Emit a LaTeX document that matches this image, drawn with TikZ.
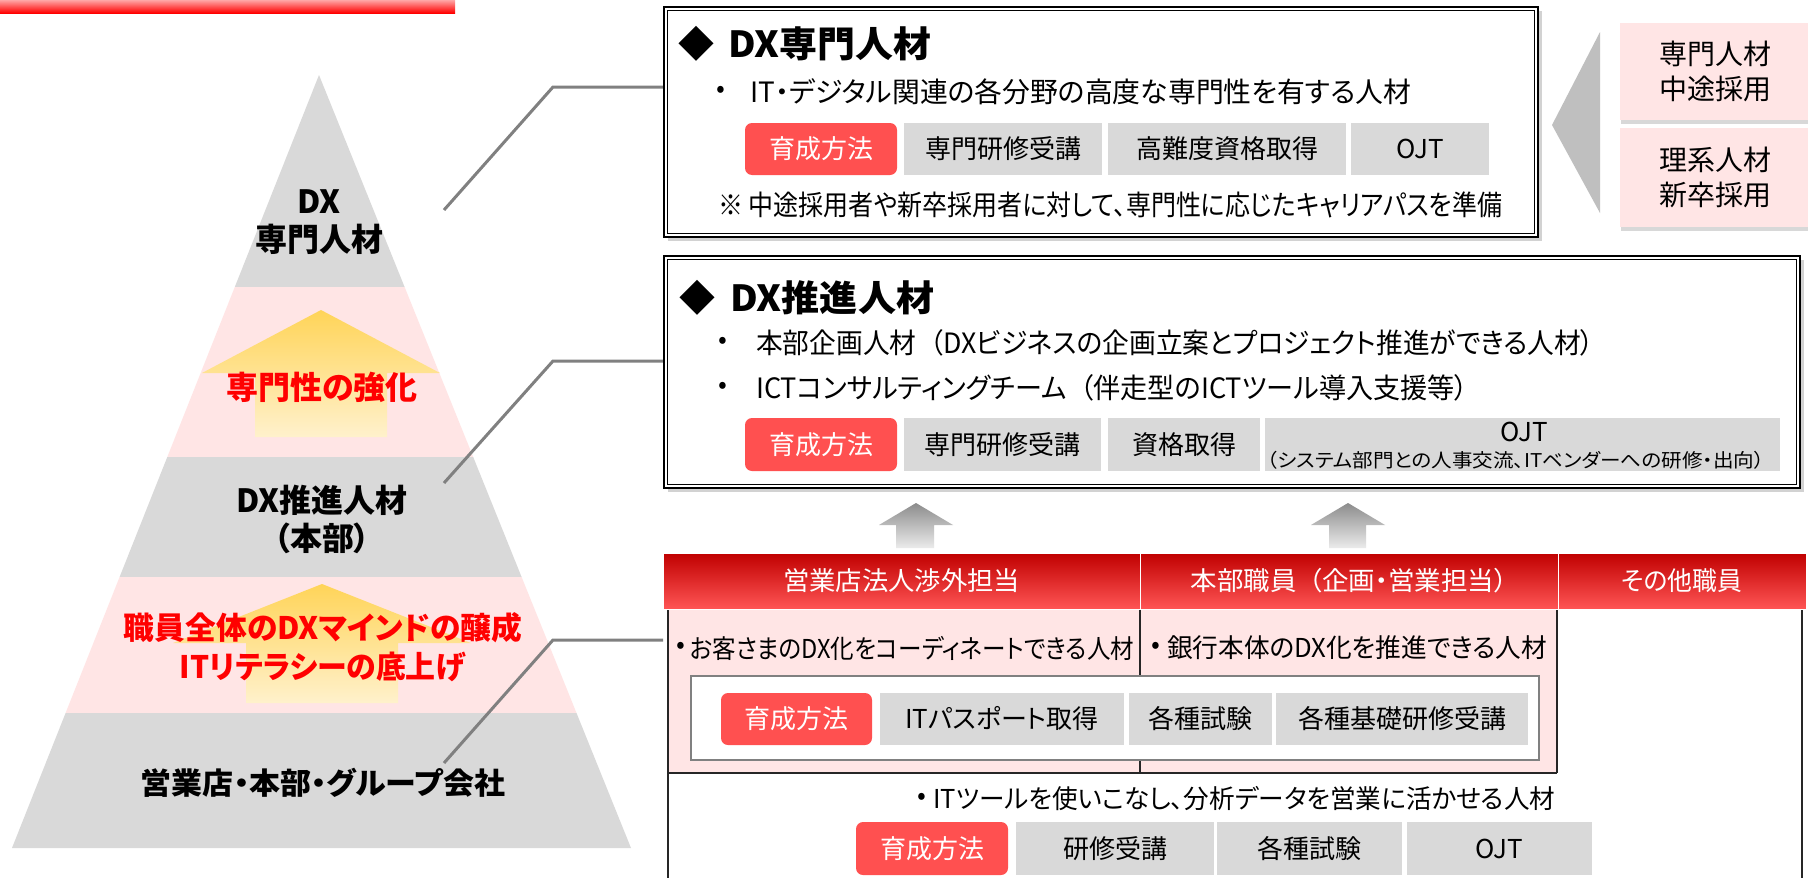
\documentclass[tikz,border=0pt]{standalone}
\usepackage{fontspec}
\setmainfont{Noto Sans CJK JP}[RawFeature=+palt]
\usepackage{graphicx}
\usetikzlibrary{shadows}
\definecolor{pgray}{RGB}{217,217,217}
\definecolor{ppink}{RGB}{255,229,229}
\definecolor{btnred}{RGB}{255,80,80}
\definecolor{linegray}{RGB}{128,128,128}
\definecolor{ytop}{RGB}{255,212,88}
\definecolor{ybot}{RGB}{255,241,204}
\definecolor{hdrtop}{RGB}{192,0,0}
\definecolor{hdrbot}{RGB}{255,85,85}
\definecolor{tri}{RGB}{191,191,191}
\definecolor{redtxt}{RGB}{255,0,0}
\definecolor{uptop}{RGB}{140,140,140}
\definecolor{upbot}{RGB}{235,235,235}
\newcommand{\fitw}[2]{\resizebox{#1}{\height}{#2}}
\newcommand{\btnfont}{\fontsize{26}{30}\selectfont}
\begin{document}
\begin{tikzpicture}[x=1pt,y=-1pt,
  lbl/.style={inner sep=0pt, align=center, font=\bfseries\fontsize{32}{38}\selectfont},
  conn/.style={draw=linegray, line width=3pt},
  ttl/.style={inner sep=0pt, font=\bfseries\fontsize{36}{40}\selectfont},
  txt/.style={inner sep=0pt, anchor=west, font=\fontsize{28}{32}\selectfont},
  stxt/.style={inner sep=0pt, anchor=west, font=\fontsize{26}{30}\selectfont},
  dot/.style={inner sep=0pt, font=\fontsize{26}{30}\selectfont},
  redbtn/.style={inner sep=0pt, fill=btnred, text=white, rounded corners=7pt, font=\btnfont},
  graybtn/.style={inner sep=0pt, fill=pgray, text=black, font=\btnfont},
  dbox/.style={draw=black, line width=2.4pt, fill=white, inner sep=0pt,
    drop shadow={shadow xshift=4pt, shadow yshift=-4pt, opacity=0.35}},
  pinkbox/.style={fill=ppink, inner sep=0pt, align=center, font=\fontsize{28}{35}\selectfont,
    drop shadow={shadow xshift=1pt, shadow yshift=-4pt, opacity=0.3}},
  hdrcell/.style={top color=hdrtop, bottom color=hdrbot, draw=white, line width=1pt,
    inner sep=0pt, text=white, font=\fontsize{26}{30}\selectfont, minimum height=56pt},
  tline/.style={draw=black!85, line width=1.3pt}
]
\useasboundingbox (0,0) rectangle (1808,878);
\fill[white] (0,0) rectangle (1808,878);

% top red bar
\shade[top color=red!35, bottom color=red] (0,0) rectangle (455,13);

% pyramid
\fill[pgray] (319,75) -- (404.6,287) -- (234.8,287) -- cycle;
\fill[ppink] (234.8,287) -- (404.6,287) -- (473.2,457) -- (167.3,457) -- cycle;
\fill[pgray] (167.3,457) -- (473.2,457) -- (521.6,577) -- (119.6,577) -- cycle;
\fill[ppink] (119.6,577) -- (521.6,577) -- (576.5,713) -- (65.6,713) -- cycle;
\fill[pgray] (65.6,713) -- (576.5,713) -- (631,848) -- (12,848) -- cycle;

% yellow arrows
\shade[top color=ytop, bottom color=ybot] (321,310) -- (440,373) -- (387,373) -- (387,437) -- (255,437) -- (255,373) -- (202,373) -- cycle;
\shade[top color=ytop, bottom color=ybot] (322,584) -- (471,643) -- (398,643) -- (398,703) -- (246,703) -- (246,643) -- (173,643) -- cycle;

% pyramid labels
\node[lbl] (L1) at (319,222) {DX\\専門人材};
\node[lbl, text=redtxt] (A1) at (322,387) {専門性の強化};
\node[lbl] (L2) at (322,519) {DX推進人材\\（本部）};
\node[lbl, text=redtxt, font=\bfseries\fontsize{31}{39}\selectfont] (A2) at (323,647) {\fitw{398pt}{職員全体のDXマインドの醸成}\\\fitw{286pt}{ITリテラシーの底上げ}};
\node[lbl, font=\bfseries\fontsize{30}{36}\selectfont] (L3) at (323,783) {\fitw{364pt}{営業店・本部・グループ会社}};

% ===== box 1 =====
\node[dbox, minimum width=874pt, minimum height=230pt] (box1) at (1101,122) {};
\draw[line width=0.9pt] ([shift={(5,5)}]box1.north west) rectangle ([shift={(-5,-5)}]box1.south east);
\node[ttl] (t1d) at (696,44) {◆};
\node[ttl, anchor=west] (t1) at (728,44) {\fitw{203pt}{DX専門人材}};
\node[dot] (b1d) at (721,92) {•};
\node[txt] (b1) at (750,92) {\fitw{661pt}{IT・デジタル関連の各分野の高度な専門性を有する人材}};
\node[redbtn, minimum width=152pt, minimum height=52pt] (r1) at (821,149) {育成方法};
\node[graybtn, minimum width=198pt, minimum height=52pt] (g11) at (1003,149) {専門研修受講};
\node[graybtn, minimum width=238pt, minimum height=52pt] (g12) at (1227,149) {高難度資格取得};
\node[graybtn, minimum width=138pt, minimum height=52pt] (g13) at (1420,149) {OJT};
\node[txt] (n1) at (718,205) {\fitw{784pt}{※ 中途採用者や新卒採用者に対して、専門性に応じたキャリアパスを準備}};

% right side recruitment
\fill[tri] (1552,125) -- (1600,32) -- (1600,213) -- cycle;
\node[pinkbox, minimum width=190pt, minimum height=97pt] (rb1) at (1715,71.5) {専門人材\\中途採用};
\node[pinkbox, minimum width=190pt, minimum height=99pt] (rb2) at (1715,177.5) {理系人材\\新卒採用};

% ===== box 2 =====
\node[dbox, minimum width=1136pt, minimum height=232pt] (box2) at (1232,372) {};
\draw[line width=0.9pt] ([shift={(5,5)}]box2.north west) rectangle ([shift={(-5,-5)}]box2.south east);
\node[ttl] (t2d) at (697,298) {◆};
\node[ttl, anchor=west] (t2) at (730,298) {\fitw{204pt}{DX推進人材}};
\node[dot] (b21d) at (723,343) {•};
\node[txt] (b21) at (756,343) {\fitw{838pt}{本部企画人材\hspace{14pt}（DXビジネスの企画立案とプロジェクト推進ができる人材）}};
\node[dot] (b22d) at (723,388) {•};
\node[txt] (b22) at (756,388) {\fitw{712pt}{ICTコンサルティングチーム\hspace{14pt}（伴走型のICTツール導入支援等）}};
\node[redbtn, minimum width=152pt, minimum height=53pt] (r2) at (821,444.5) {育成方法};
\node[graybtn, minimum width=197pt, minimum height=53pt] (g21) at (1002.5,444.5) {専門研修受講};
\node[graybtn, minimum width=152pt, minimum height=53pt] (g22) at (1184,444.5) {資格取得};
\node[graybtn, minimum width=515pt, minimum height=53pt] (g23) at (1522.5,444.5) {};
\node[inner sep=0pt, font=\btnfont] (g23a) at (1524,432) {OJT};
\node[inner sep=0pt, font=\fontsize{19}{22}\selectfont] (g23b) at (1516,460) {\fitw{497pt}{（システム部門との人事交流、ITベンダーへの研修・出向）}};

% up arrows
\shade[top color=uptop, bottom color=upbot] (916,503) -- (953,525) -- (934,525) -- (934,548) -- (896,548) -- (896,525) -- (879,525) -- cycle;
\shade[top color=uptop, bottom color=upbot] (1348,503) -- (1385,525) -- (1366,525) -- (1366,548) -- (1329,548) -- (1329,525) -- (1311,525) -- cycle;

% ===== table =====
\fill[ppink] (668,609) rectangle (1557,773);
\draw[tline] (668,609) -- (668,878);
\draw[tline] (1557,609) -- (1557,773);
\draw[tline] (668,773) -- (1557,773);
\draw[tline] (1140,609) -- (1140,773);
\draw[tline] (1802,609) -- (1802,878);
\node[hdrcell, minimum width=477pt] (h1) at (901.5,581) {\fitw{237pt}{営業店法人渉外担当}};
\node[hdrcell, minimum width=418pt] (h2) at (1349,581) {\fitw{317pt}{本部職員\hspace{12pt}（企画・営業担当）}};
\node[hdrcell, minimum width=248pt] (h3) at (1682,581) {\fitw{121pt}{その他職員}};

\node[dot] (c1d) at (681,648) {•};
\node[stxt] (c1) at (690,648) {\fitw{444pt}{お客さまのDX化をコーディネートできる人材}};
\node[dot] (c2d) at (1156,648) {•};
\node[stxt] (c2) at (1167,648) {\fitw{380pt}{銀行本体のDX化を推進できる人材}};

\node[draw=black!50, line width=2pt, fill=white, inner sep=0pt, minimum width=848pt, minimum height=84pt] (ibox) at (1115,718) {};
\node[redbtn, minimum width=151pt, minimum height=52pt] (r3) at (796.5,719) {育成方法};
\node[graybtn, minimum width=244pt, minimum height=52pt] (g31) at (1002,719) {ITパスポート取得};
\node[graybtn, minimum width=143pt, minimum height=52pt] (g32) at (1200.5,719) {各種試験};
\node[graybtn, minimum width=252pt, minimum height=52pt] (g33) at (1402,719) {各種基礎研修受講};

\node[dot] (c3d) at (922,799) {•};
\node[stxt] (c3) at (933,799) {\fitw{622pt}{ITツールを使いこなし、分析データを営業に活かせる人材}};
\node[redbtn, minimum width=152pt, minimum height=53pt] (r4) at (932,848.5) {育成方法};
\node[graybtn, minimum width=198pt, minimum height=53pt] (g41) at (1115,848.5) {研修受講};
\node[graybtn, minimum width=185pt, minimum height=53pt] (g42) at (1309.5,848.5) {各種試験};
\node[graybtn, minimum width=185pt, minimum height=53pt] (g43) at (1499.5,848.5) {OJT};

% connectors
\coordinate (p1) at (444,210); \coordinate (k1) at (553,87);
\coordinate (p2) at (444,483); \coordinate (k2) at (553,361);
\coordinate (p3) at (444,763); \coordinate (k3) at (553,640);
\coordinate (tbl) at (663,640);
\draw[conn] (p1) -- (k1) -- (k1 -| box1.west);
\draw[conn] (p2) -- (k2) -- (k2 -| box2.west);
\draw[conn] (p3) -- (k3) -- (tbl);
\end{tikzpicture}
\end{document}
